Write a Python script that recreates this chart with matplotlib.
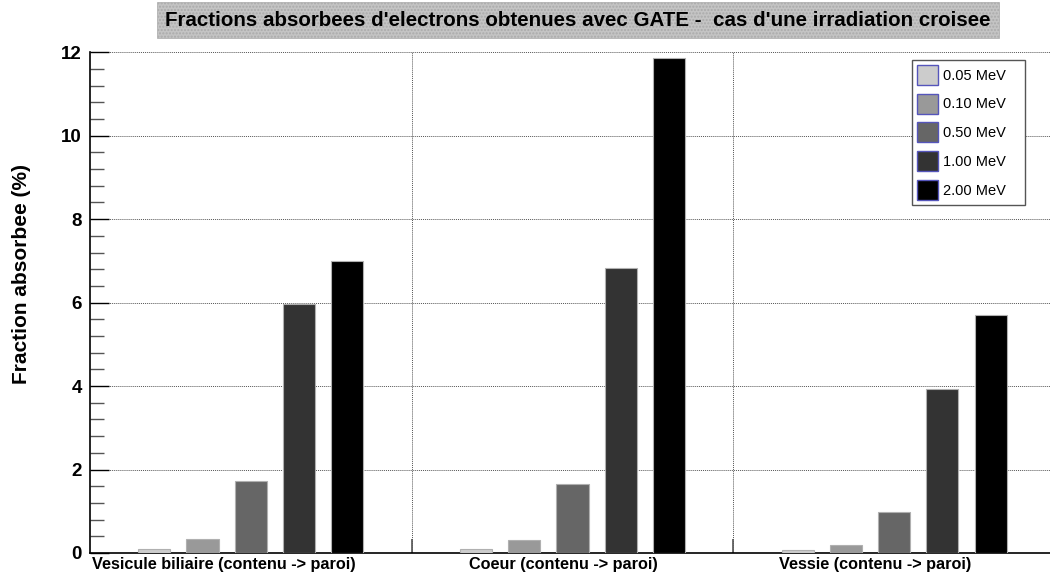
import matplotlib.pyplot as plt
from matplotlib.ticker import MultipleLocator
import numpy as np

plt.rcParams['font.family'] = ['Liberation Sans', 'DejaVu Sans']

categories = ['Vesicule biliaire (contenu -> paroi)', 'Coeur (contenu -> paroi)', 'Vessie (contenu -> paroi)']
energies = ['0.05 MeV', '0.10 MeV', '0.50 MeV', '1.00 MeV', '2.00 MeV']
colors = ['#cccccc', '#999999', '#666666', '#333333', '#000000']

# fraction absorbee (%) par energie, une valeur par organe
f_005 = [0.09, 0.10, 0.06]
f_010 = [0.33, 0.30, 0.19]
f_050 = [1.72, 1.65, 0.97]
f_100 = [5.97, 6.82, 3.93]
f_200 = [7.00, 11.85, 5.70]
series = [f_005, f_010, f_050, f_100, f_200]

fig = plt.figure(figsize=(10.5, 5.8), dpi=100)
# the last category runs a little past the right edge of the canvas
ax = fig.add_axes([0.0857, 0.0466, 0.919, 0.8634])

x = np.arange(len(categories))
width = 0.1
for i, (vals, c, lab) in enumerate(zip(series, colors, energies)):
    ax.bar(x + 0.15 + 0.15 * i, vals, width, align='edge', color=c,
           edgecolor='#b0b0b0', linewidth=0.8, label=lab, zorder=3)

ax.set_xlim(0, 3)
ax.set_ylim(0, 12)

# category boundaries with inward ticks, labels near the centers
ax.set_xticks([1, 2])
ax.set_xticklabels(['', ''])
ax.set_xticks(x + np.array([0.416, 0.472, 0.441]), minor=True)
ax.set_xticklabels(categories, minor=True, fontsize=11.7, fontweight='bold')
ax.tick_params(axis='x', which='major', direction='in', length=10, width=1.2, color='#555555')
ax.tick_params(axis='x', which='minor', length=0, pad=3)

ax.yaxis.set_major_locator(MultipleLocator(2))
ax.yaxis.set_minor_locator(MultipleLocator(0.4))
ax.tick_params(axis='y', which='major', direction='in', length=14, width=1, labelsize=13.5, pad=6)
ax.tick_params(axis='y', which='minor', direction='in', length=10, width=1, color='#555555')
for t in ax.get_yticklabels():
    t.set_fontweight('bold')

ax.grid(True, which='major', linestyle=(0, (1, 1)), linewidth=0.7, color='#555555', zorder=0)

for s in ['top', 'right']:
    ax.spines[s].set_visible(False)
ax.spines['left'].set_linewidth(1.2)
ax.spines['bottom'].set_linewidth(1.2)

ax.set_ylabel('Fraction absorbee (%)', fontsize=15, fontweight='bold')
ax.yaxis.set_label_coords(-0.061, 0.557)

leg = ax.legend(loc='upper left', bbox_to_anchor=(912 / 1050, 1 - 205 / 580, 113 / 1050, 145 / 580),
                bbox_transform=fig.transFigure, mode='expand', fontsize=10.5, frameon=True,
                fancybox=False, edgecolor='#555555', framealpha=1, handlelength=1.45,
                handleheight=1.73, labelspacing=0.6, borderpad=0.34, handletextpad=0.35,
                borderaxespad=0)
leg.get_frame().set_linewidth(1.0)
for h in leg.legend_handles:
    h.set_edgecolor('#5555bb')
    h.set_linewidth(1.0)

fig.text(0.5505, 0.9655, "Fractions absorbees d'electrons obtenues avec GATE -  cas d'une irradiation croisee",
         ha='center', va='center', fontsize=14.8, fontweight='bold',
         bbox=dict(boxstyle='square,pad=0.4', facecolor='#c4c4c4', edgecolor='#aaaaaa',
                   hatch='.....', linewidth=0.5))

fig.savefig('out.png', dpi=100)
